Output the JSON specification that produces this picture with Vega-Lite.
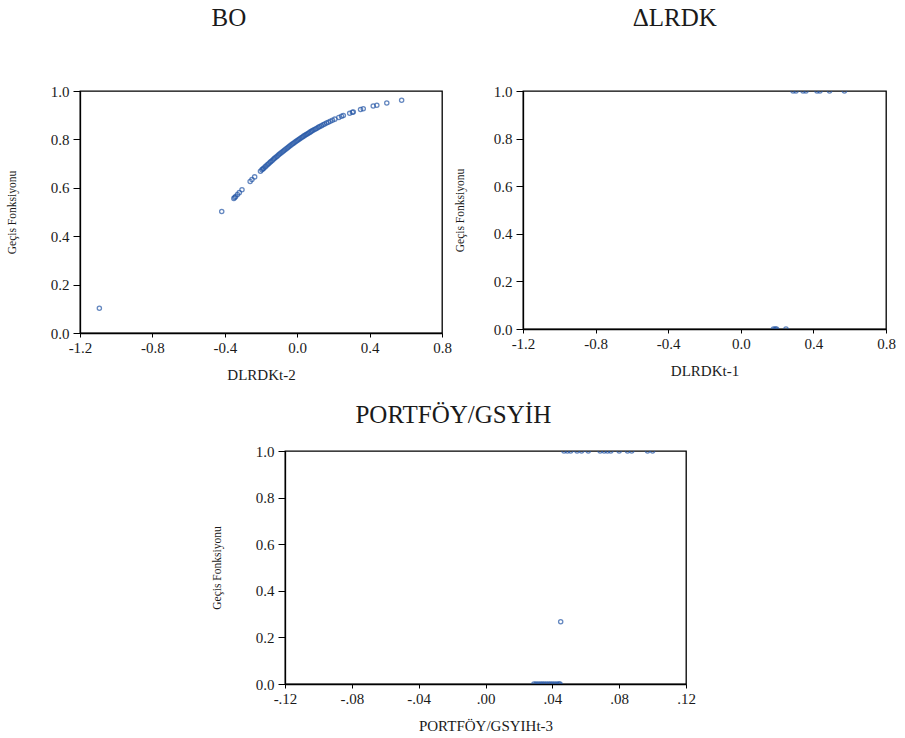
{
  "$schema": "https://vega.github.io/schema/vega-lite/v6.json",
  "background": "white",
  "padding": 5,
  "config": {
    "font": "Liberation Serif",
    "view": {"stroke": "#000", "strokeWidth": 1.3},
    "axis": {
      "grid": false,
      "domainColor": "#000",
      "domainWidth": 1.3,
      "tickColor": "#000",
      "labelColor": "#1a1a1a",
      "labelFont": "Liberation Serif",
      "labelFontSize": 15,
      "labelFlush": false,
      "labelOverlap": false,
      "titleFont": "Liberation Serif",
      "titleFontWeight": "normal",
      "titleColor": "#1a1a1a"
    },
    "axisX": {"tickSize": 4, "labelPadding": 3, "titleFontSize": 15, "titlePadding": 12},
    "axisY": {"tickSize": 7, "labelPadding": 4, "titleFontSize": 11.5, "titlePadding": 33},
    "title": {"font": "Liberation Serif", "fontSize": 25, "fontWeight": "normal", "color": "#1a1a1a", "frame": "bounds", "anchor": "middle"},
    "point": {"filled": false, "color": "#2456a6", "size": 18, "strokeWidth": 1.3}
  },
  "datasets": {
    "bo": [
      {"x": -1.093, "g": 0.1021},
      {"x": -0.417, "g": 0.5024},
      {"x": -0.35, "g": 0.5563},
      {"x": -0.345, "g": 0.5603},
      {"x": -0.34, "g": 0.5642},
      {"x": -0.33, "g": 0.5722},
      {"x": -0.32, "g": 0.5800},
      {"x": -0.305, "g": 0.5918},
      {"x": -0.26, "g": 0.6264},
      {"x": -0.25, "g": 0.6339},
      {"x": -0.235, "g": 0.6451},
      {"x": -0.203, "g": 0.6685},
      {"x": -0.195, "g": 0.6741},
      {"x": -0.19, "g": 0.6776},
      {"x": -0.185, "g": 0.6812},
      {"x": -0.178, "g": 0.6861},
      {"x": -0.172, "g": 0.6902},
      {"x": -0.165, "g": 0.6950},
      {"x": -0.158, "g": 0.6998},
      {"x": -0.151, "g": 0.7044},
      {"x": -0.145, "g": 0.7085},
      {"x": -0.138, "g": 0.7131},
      {"x": -0.131, "g": 0.7177},
      {"x": -0.125, "g": 0.7217},
      {"x": -0.118, "g": 0.7262},
      {"x": -0.111, "g": 0.7307},
      {"x": -0.104, "g": 0.7351},
      {"x": -0.097, "g": 0.7394},
      {"x": -0.09, "g": 0.7438},
      {"x": -0.083, "g": 0.7481},
      {"x": -0.076, "g": 0.7523},
      {"x": -0.069, "g": 0.7565},
      {"x": -0.062, "g": 0.7607},
      {"x": -0.055, "g": 0.7648},
      {"x": -0.048, "g": 0.7687},
      {"x": -0.041, "g": 0.7727},
      {"x": -0.034, "g": 0.7767},
      {"x": -0.027, "g": 0.7806},
      {"x": -0.02, "g": 0.7845},
      {"x": -0.013, "g": 0.7882},
      {"x": -0.006, "g": 0.7920},
      {"x": 0.001, "g": 0.7957},
      {"x": 0.008, "g": 0.7993},
      {"x": 0.015, "g": 0.8029},
      {"x": 0.022, "g": 0.8065},
      {"x": 0.029, "g": 0.8100},
      {"x": 0.036, "g": 0.8135},
      {"x": 0.043, "g": 0.8169},
      {"x": 0.05, "g": 0.8202},
      {"x": 0.057, "g": 0.8235},
      {"x": 0.064, "g": 0.8267},
      {"x": 0.071, "g": 0.8300},
      {"x": 0.078, "g": 0.8332},
      {"x": 0.085, "g": 0.8363},
      {"x": 0.093, "g": 0.8398},
      {"x": 0.101, "g": 0.8432},
      {"x": 0.109, "g": 0.8464},
      {"x": 0.117, "g": 0.8499},
      {"x": 0.125, "g": 0.8532},
      {"x": 0.134, "g": 0.8568},
      {"x": 0.143, "g": 0.8604},
      {"x": 0.152, "g": 0.8638},
      {"x": 0.162, "g": 0.8675},
      {"x": 0.172, "g": 0.8712},
      {"x": 0.183, "g": 0.8751},
      {"x": 0.195, "g": 0.8794},
      {"x": 0.208, "g": 0.8837},
      {"x": 0.23, "g": 0.8909},
      {"x": 0.245, "g": 0.8955},
      {"x": 0.255, "g": 0.8985},
      {"x": 0.29, "g": 0.9084},
      {"x": 0.305, "g": 0.9123},
      {"x": 0.31, "g": 0.9136},
      {"x": 0.35, "g": 0.9233},
      {"x": 0.365, "g": 0.9266},
      {"x": 0.42, "g": 0.9378},
      {"x": 0.44, "g": 0.9414},
      {"x": 0.495, "g": 0.9505},
      {"x": 0.577, "g": 0.9616}
    ],
    "lrdk": [
      {"x": 0.18, "g": 0.0},
      {"x": 0.19, "g": 0.0},
      {"x": 0.197, "g": 0.0},
      {"x": 0.249, "g": 0.0},
      {"x": 0.288, "g": 1.0},
      {"x": 0.304, "g": 1.0},
      {"x": 0.343, "g": 1.0},
      {"x": 0.359, "g": 1.0},
      {"x": 0.42, "g": 1.0},
      {"x": 0.436, "g": 1.0},
      {"x": 0.489, "g": 1.0},
      {"x": 0.571, "g": 1.0}
    ],
    "port": [
      {"x": 0.029, "g": 0.0},
      {"x": 0.0302, "g": 0.0},
      {"x": 0.0315, "g": 0.0},
      {"x": 0.0328, "g": 0.0},
      {"x": 0.034, "g": 0.0},
      {"x": 0.0352, "g": 0.0},
      {"x": 0.0365, "g": 0.0},
      {"x": 0.0378, "g": 0.0},
      {"x": 0.039, "g": 0.0},
      {"x": 0.0402, "g": 0.0},
      {"x": 0.0415, "g": 0.0},
      {"x": 0.0428, "g": 0.0},
      {"x": 0.044, "g": 0.0},
      {"x": 0.0446, "g": 0.0},
      {"x": 0.045, "g": 0.267},
      {"x": 0.047, "g": 1.0},
      {"x": 0.049, "g": 1.0},
      {"x": 0.051, "g": 1.0},
      {"x": 0.0548, "g": 1.0},
      {"x": 0.0575, "g": 1.0},
      {"x": 0.0615, "g": 1.0},
      {"x": 0.0686, "g": 1.0},
      {"x": 0.071, "g": 1.0},
      {"x": 0.073, "g": 1.0},
      {"x": 0.075, "g": 1.0},
      {"x": 0.08, "g": 1.0},
      {"x": 0.085, "g": 1.0},
      {"x": 0.0875, "g": 1.0},
      {"x": 0.097, "g": 1.0},
      {"x": 0.1, "g": 1.0}
    ]
  },
  "spacing": 19,
  "vconcat": [
    {
      "spacing": 0,
      "hconcat": [
        {
          "title": {"text": "BO", "offset": 53},
          "width": 362,
          "height": 242,
          "data": {"name": "bo"},
          "mark": {"type": "point", "clip": true},
          "encoding": {
            "x": {"field": "x", "type": "quantitative", "title": "DLRDKt-2",
                  "scale": {"domain": [-1.2, 0.8], "nice": false, "zero": false},
                  "axis": {"values": [-1.2, -0.8, -0.4, 0.0, 0.4, 0.8],
                           "labelExpr": "replace(format(datum.value, '.1f'), '\u2212', '-')"}},
            "y": {"field": "g", "type": "quantitative", "title": "Geçis Fonksiyonu",
                  "scale": {"domain": [0, 1], "nice": false},
                  "axis": {"values": [0, 0.2, 0.4, 0.6, 0.8, 1.0], "format": ".1f"}}
          }
        },
        {
          "title": {"text": "ΔLRDK", "offset": 53},
          "width": 363,
          "height": 238,
          "data": {"name": "lrdk"},
          "mark": {"type": "point", "clip": true},
          "encoding": {
            "x": {"field": "x", "type": "quantitative", "title": "DLRDKt-1",
                  "scale": {"domain": [-1.2, 0.8], "nice": false, "zero": false},
                  "axis": {"values": [-1.2, -0.8, -0.4, 0.0, 0.4, 0.8],
                           "labelExpr": "replace(format(datum.value, '.1f'), '\u2212', '-')"}},
            "y": {"field": "g", "type": "quantitative", "title": "Geçis Fonksiyonu",
                  "scale": {"domain": [0, 1], "nice": false},
                  "axis": {"values": [0, 0.2, 0.4, 0.6, 0.8, 1.0], "format": ".1f", "titlePadding": 28}}
          }
        }
      ]
    },
    {
      "spacing": 0,
      "hconcat": [
        {
          "width": 130,
          "height": 233,
          "view": {"stroke": null},
          "data": {"values": []},
          "mark": {"type": "point"},
          "encoding": {}
        },
        {
          "title": {"text": "PORTFÖY/GSYİH", "offset": 16},
          "width": 401,
          "height": 233,
          "data": {"name": "port"},
          "mark": {"type": "point", "clip": true},
          "encoding": {
            "x": {"field": "x", "type": "quantitative", "title": "PORTFÖY/GSYIHt-3",
                  "scale": {"domain": [-0.12, 0.12], "nice": false, "zero": false},
                  "axis": {"values": [-0.12, -0.08, -0.04, 0.0, 0.04, 0.08, 0.12],
                           "labelExpr": "replace(replace(format(datum.value, '.2f'), '0.', '.'), '\u2212', '-')"}},
            "y": {"field": "g", "type": "quantitative", "title": "Geçis Fonksiyonu",
                  "scale": {"domain": [0, 1], "nice": false},
                  "axis": {"values": [0, 0.2, 0.4, 0.6, 0.8, 1.0], "format": ".1f"}}
          }
        }
      ]
    }
  ]
}
